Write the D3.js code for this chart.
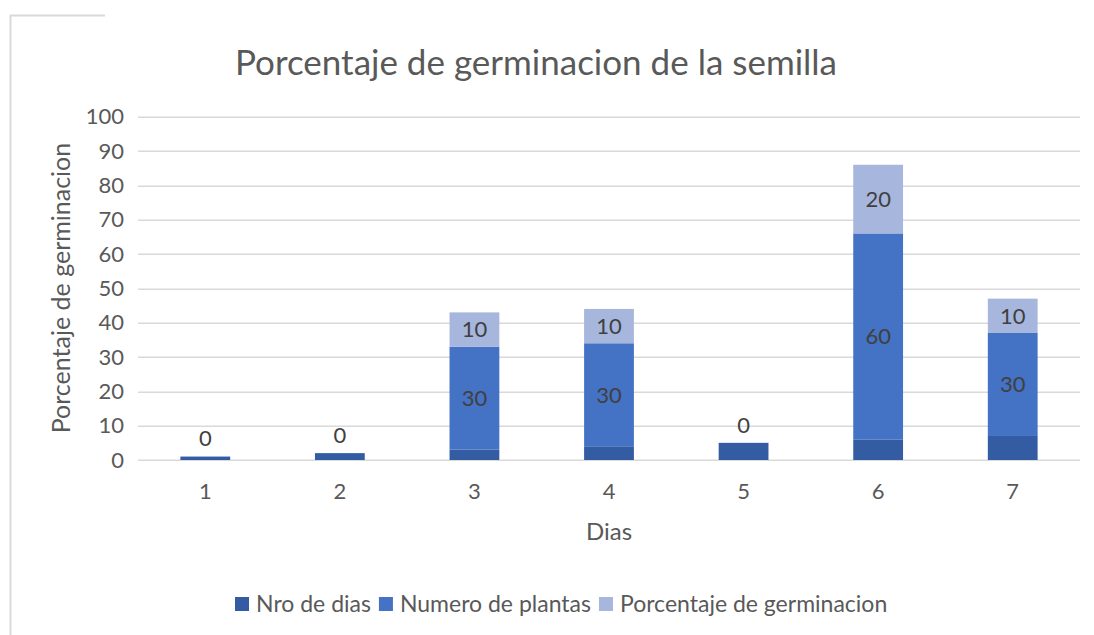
<!DOCTYPE html>
<html>
<head>
<meta charset="utf-8">
<script src="https://cdn.jsdelivr.net/npm/d3@7"></script>
<style>
  body { margin: 0; background: #fff; }
  text { font-family: Lato, "Open Sans", sans-serif; }
</style>
</head>
<body>
<div id="chart-container"></div>
<script>
// chart data
var dias = ["1", "2", "3", "4", "5", "6", "7"];
var nroDias = [1, 2, 3, 4, 5, 6, 7];
var numeroPlantas = [0, 0, 30, 30, 0, 60, 30];
var porcentajeGerm = [0, 0, 10, 10, 0, 20, 10];
var yTicks = [0, 10, 20, 30, 40, 50, 60, 70, 80, 90, 100];
var seriesNames = ["Nro de dias", "Numero de plantas", "Porcentaje de germinacion"];

var W = 1094, H = 635;
var margin = {left: 138, right: 14, top: 116.7, bottom: 175};
var width = W - margin.left - margin.right;
var height = H - margin.top - margin.bottom;   // zero line at y=460

var colors = ["#335ca3", "#4472c4", "#a7b6dc"];

var svg = d3.select("#chart-container")
    .append("svg")
    .attr("width", W)
    .attr("height", H);

// partial frame of the chart area
svg.append("path")
    .attr("d", "M10.5,635 V15.5 H105")
    .attr("fill", "none")
    .attr("stroke", "#d9d9d9")
    .attr("stroke-width", 2);

var g = svg.append("g")
    .attr("transform", "translate(" + margin.left + "," + margin.top + ")");

var x = d3.scaleBand()
    .domain(dias)
    .range([0, width])
    .paddingInner(0.63)
    .paddingOuter(0.315);

var y = d3.scaleLinear()
    .domain([0, 100])
    .range([height, 0]);

// gridlines
g.selectAll("line.grid")
    .data(yTicks)
    .enter().append("line")
    .attr("class", "grid")
    .attr("x1", 0)
    .attr("x2", width)
    .attr("y1", function (d) { return Math.round(y(d)) + 0.5; })
    .attr("y2", function (d) { return Math.round(y(d)) + 0.5; })
    .attr("stroke", "#d9d9d9")
    .attr("stroke-width", 1.5);

// y axis labels
var yAxis = d3.axisLeft(y).tickValues(yTicks).tickSize(0).tickPadding(14);
g.append("g")
    .attr("class", "y-axis")
    .call(yAxis)
    .call(function (s) { s.select(".domain").remove(); })
    .selectAll("text")
    .style("font-size", "22px")
    .style("font-family", "Lato, 'Open Sans', sans-serif")
    .attr("fill", "#595959");

// x axis labels
var xAxis = d3.axisBottom(x).tickSize(0).tickPadding(23);
g.append("g")
    .attr("class", "x-axis")
    .attr("transform", "translate(0," + height + ")")
    .call(xAxis)
    .call(function (s) { s.select(".domain").remove(); })
    .selectAll("text")
    .style("font-size", "22px")
    .style("font-family", "Lato, 'Open Sans', sans-serif")
    .attr("fill", "#595959");

// stack the three series
var rows = dias.map(function (d, i) {
    return {dia: d, a: nroDias[i], b: numeroPlantas[i], c: porcentajeGerm[i]};
});
var stack = d3.stack().keys(["a", "b", "c"]);
var stacked = stack(rows);

stacked.forEach(function (layer, li) {
    g.selectAll("rect.s" + li)
        .data(layer)
        .enter().append("rect")
        .attr("class", "s" + li)
        .attr("x", function (d) { return x(d.data.dia); })
        .attr("width", x.bandwidth())
        .attr("y", function (d) { return y(d[1]); })
        .attr("height", function (d) { return y(d[0]) - y(d[1]); })
        .style("fill", colors[li]);
});

// data labels for Numero de plantas / Porcentaje
stacked.slice(1).forEach(function (layer, li) {
    g.selectAll("text.lbl" + li)
        .data(layer.filter(function (d) { return d[1] - d[0] > 0; }))
        .enter().append("text")
        .attr("x", function (d) { return x(d.data.dia) + x.bandwidth() / 2; })
        .attr("y", function (d) { return (y(d[0]) + y(d[1])) / 2; })
        .attr("dy", "0.36em")
        .attr("text-anchor", "middle")
        .style("font-size", "22px")
        .attr("fill", "#404040")
        .text(function (d) { return d[1] - d[0]; });
});

// zero labels sit just above the bar
g.selectAll("text.zero")
    .data(rows.filter(function (d) { return d.b === 0; }))
    .enter().append("text")
    .attr("x", function (d) { return x(d.dia) + x.bandwidth() / 2; })
    .attr("y", function (d) { return y(d.a) - 18; })
    .attr("dy", "0.36em")
    .attr("text-anchor", "middle")
    .style("font-size", "22px")
    .attr("fill", "#404040")
    .text(function (d) { return d.b; });

// title
svg.append("text")
    .attr("x", 536)
    .attr("y", 75)
    .attr("text-anchor", "middle")
    .style("font-size", "35px")
    .attr("fill", "#595959")
    .text("Porcentaje de germinacion de la semilla");

// axis titles
svg.append("text")
    .attr("x", 609)
    .attr("y", 540)
    .attr("text-anchor", "middle")
    .style("font-size", "24px")
    .attr("fill", "#595959")
    .text("Dias");

svg.append("text")
    .attr("transform", "translate(70,288) rotate(-90)")
    .attr("text-anchor", "middle")
    .style("font-size", "25px")
    .attr("fill", "#595959")
    .text("Porcentaje de germinacion");

// legend
var legend = svg.append("g").attr("transform", "translate(235,604)");
var lx = 0;
seriesNames.forEach(function (name, i) {
    var item = legend.append("g").attr("transform", "translate(" + lx + ",0)");
    item.append("rect")
        .attr("x", 0).attr("y", -7)
        .attr("width", 14).attr("height", 14)
        .style("fill", colors[i]);
    var t = item.append("text")
        .attr("x", 21)
        .attr("y", 0)
        .attr("dy", "0.36em")
        .style("font-size", "23px")
        .attr("fill", "#595959")
        .text(name);
    lx += 21 + t.node().getComputedTextLength() + 8;
});
</script>
</body>
</html>
